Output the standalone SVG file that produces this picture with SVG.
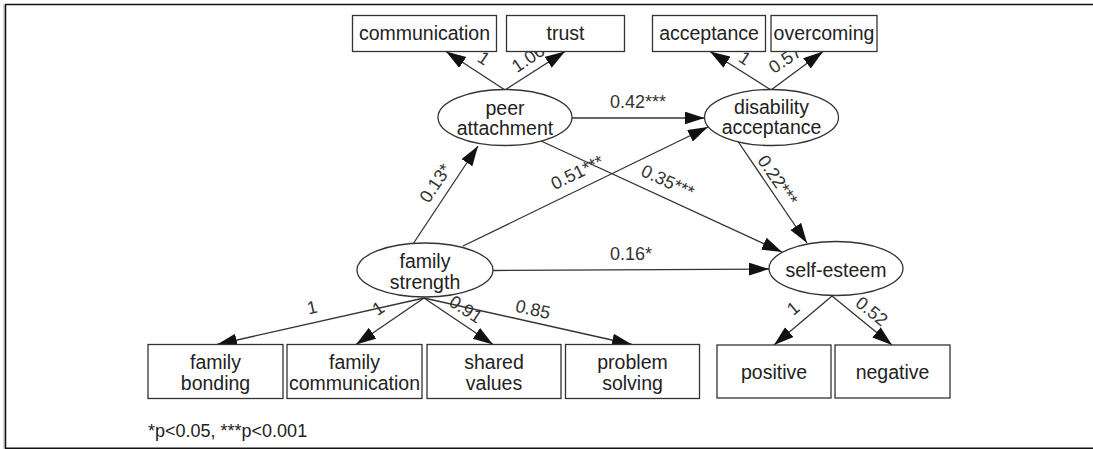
<svg xmlns="http://www.w3.org/2000/svg" width="1093" height="449" viewBox="0 0 1093 449">
<style>
.box{fill:#fff;stroke:#333;stroke-width:1.3}
.ell{fill:#fff;stroke:#333;stroke-width:1.3}
.nt{font-family:"Liberation Sans",Arial,sans-serif;font-size:19.5px;fill:#222;text-anchor:middle}
.lb{font-family:"Liberation Sans",Arial,sans-serif;font-size:18px;fill:#333;text-anchor:middle}
.cn{stroke:#333;stroke-width:1.3;fill:none;marker-end:url(#ah)}
</style>
<defs>
<marker id="ah" markerUnits="userSpaceOnUse" markerWidth="21" markerHeight="14" refX="20" refY="6.5" orient="auto">
<path d="M0,0 L20,6.5 L0,13 z" fill="#111"/>
</marker>
</defs>
<rect width="1093" height="449" fill="#fff"/>
<g id="frame">
<line x1="4" y1="4" x2="4" y2="449" stroke="#aaa" stroke-width="1"/>
<line x1="5.5" y1="4.5" x2="5.5" y2="448.5" stroke="#111" stroke-width="1.5"/>
<line x1="5" y1="4.5" x2="1093" y2="4.5" stroke="#111" stroke-width="1.5"/>
<line x1="5" y1="448.3" x2="1093" y2="448.3" stroke="#111" stroke-width="1.5"/>
</g>
<g id="connectors">
<line class="cn" x1="505" y1="90" x2="446" y2="51.5"/>
<line class="cn" x1="505" y1="90" x2="565" y2="51.5"/>
<line class="cn" x1="771" y1="90" x2="710" y2="51.5"/>
<line class="cn" x1="771" y1="90" x2="823" y2="51.5"/>
<line class="cn" x1="572" y1="118" x2="704.5" y2="118"/>
<line class="cn" x1="541" y1="141" x2="782" y2="252"/>
<line class="cn" x1="413" y1="244" x2="478" y2="146"/>
<line class="cn" x1="463" y1="246" x2="708" y2="127"/>
<line class="cn" x1="493" y1="270.5" x2="769" y2="269"/>
<line class="cn" x1="737" y1="140" x2="807" y2="243"/>
<line class="cn" x1="424" y1="298" x2="217" y2="344.5"/>
<line class="cn" x1="424" y1="298" x2="356" y2="344.5"/>
<line class="cn" x1="424" y1="298" x2="493" y2="344.5"/>
<line class="cn" x1="424" y1="298" x2="632" y2="344.5"/>
<line class="cn" x1="832" y1="296" x2="774" y2="345"/>
<line class="cn" x1="832" y1="296" x2="892" y2="345"/>
</g>
<g id="labels">
<text class="lb" transform="translate(484,58) rotate(34)" y="6.5">1</text>
<text class="lb" transform="translate(528,58) rotate(-34)" y="6.5">1.06</text>
<text class="lb" transform="translate(745,58) rotate(34)" y="6.5">1</text>
<text class="lb" transform="translate(785,59) rotate(-34)" y="6.5">0.57</text>
<text class="lb" x="638" y="108">0.42***</text>
<text class="lb" transform="translate(577,172) rotate(-26)" y="6.5">0.51***</text>
<text class="lb" transform="translate(668,181) rotate(24.7)" y="6.5">0.35***</text>
<text class="lb" transform="translate(435,183) rotate(-56)" y="6.5">0.13*</text>
<text class="lb" x="631" y="260">0.16*</text>
<text class="lb" transform="translate(778,180) rotate(55.6)" y="6.5">0.22***</text>
<text class="lb" transform="translate(312,307) rotate(-12.5)" y="6.5">1</text>
<text class="lb" transform="translate(378,308) rotate(-34)" y="6.5">1</text>
<text class="lb" transform="translate(466,309) rotate(33.7)" y="6.5">0.91</text>
<text class="lb" transform="translate(533,309) rotate(12.5)" y="6.5">0.85</text>
<text class="lb" transform="translate(793,308) rotate(-40)" y="6.5">1</text>
<text class="lb" transform="translate(872,311) rotate(39)" y="6.5">0.52</text>
</g>
<g id="n-communication"><rect class="box" x="352.5" y="15.5" width="144" height="36"/><text class="nt" x="424.5" y="40">communication</text></g>
<g id="n-trust"><rect class="box" x="506.5" y="15.5" width="118" height="36"/><text class="nt" x="565.5" y="40">trust</text></g>
<g id="n-acceptance"><rect class="box" x="652.5" y="15.5" width="113" height="36"/><text class="nt" x="709" y="40">acceptance</text></g>
<g id="n-overcoming"><rect class="box" x="771" y="15.5" width="106" height="36"/><text class="nt" x="824" y="40">overcoming</text></g>
<g id="n-peer"><ellipse class="ell" cx="505" cy="117.5" rx="67" ry="28"/><text class="nt" x="505" y="115">peer</text><text class="nt" x="505" y="135">attachment</text></g>
<g id="n-disability"><ellipse class="ell" cx="771.5" cy="117.5" rx="67" ry="28"/><text class="nt" x="771.5" y="114">disability</text><text class="nt" x="771.5" y="134">acceptance</text></g>
<g id="n-family"><ellipse class="ell" cx="425" cy="270" rx="68" ry="27"/><text class="nt" x="425" y="268">family</text><text class="nt" x="425" y="288.5">strength</text></g>
<g id="n-selfesteem"><ellipse class="ell" cx="836" cy="268.5" rx="67" ry="27"/><text class="nt" x="836" y="277">self-esteem</text></g>
<g id="n-familybonding"><rect class="box" x="148" y="344.5" width="135" height="54"/><text class="nt" x="215.5" y="369">family</text><text class="nt" x="215.5" y="390">bonding</text></g>
<g id="n-familycommunication"><rect class="box" x="287" y="344.5" width="135" height="54"/><text class="nt" x="354.5" y="369">family</text><text class="nt" x="354.5" y="390">communication</text></g>
<g id="n-sharedvalues"><rect class="box" x="427" y="344.5" width="134" height="54"/><text class="nt" x="494" y="369">shared</text><text class="nt" x="494" y="390">values</text></g>
<g id="n-problemsolving"><rect class="box" x="565.5" y="344.5" width="134" height="54"/><text class="nt" x="632.5" y="369">problem</text><text class="nt" x="632.5" y="390">solving</text></g>
<g id="n-positive"><rect class="box" x="717" y="345" width="114" height="53"/><text class="nt" x="774" y="379">positive</text></g>
<g id="n-negative"><rect class="box" x="835" y="345" width="115" height="53"/><text class="nt" x="892.5" y="379">negative</text></g>
<text x="148" y="437" font-family="Liberation Sans, Arial, sans-serif" font-size="18" fill="#222">*p&lt;0.05, ***p&lt;0.001</text>
</svg>
